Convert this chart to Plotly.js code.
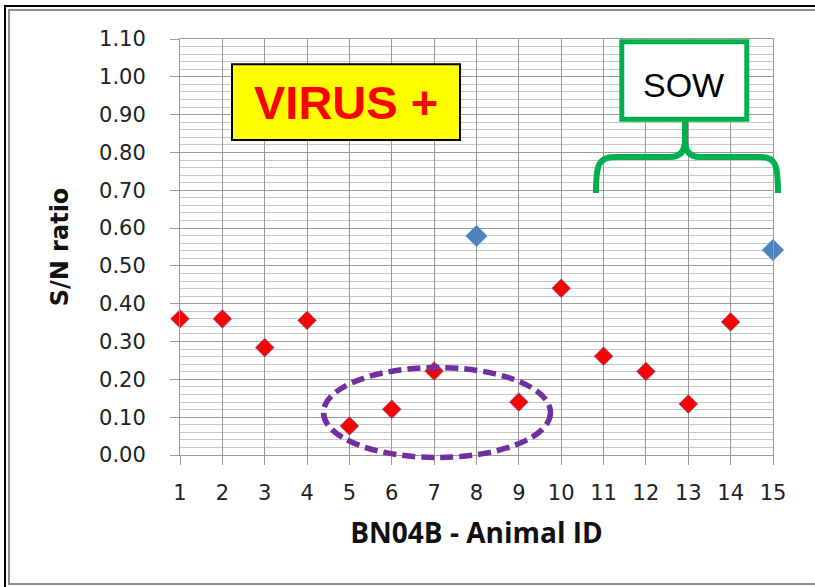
<!DOCTYPE html>
<html>
<head>
<meta charset="utf-8">
<script src="https://cdn.plot.ly/plotly-3.0.1.min.js"></script>
<style>
  html, body { margin: 0; padding: 0; background: #ffffff; }
  #chart { width: 815px; height: 587px; }
</style>
</head>
<body>
<div id="chart"></div>
<script>
// ---- data ----
const positiveIds    = [1, 2, 3, 4, 5, 6, 7, 9, 10, 11, 12, 13, 14];
const positiveRatios = [0.36, 0.36, 0.284, 0.356, 0.077, 0.121, 0.222, 0.14, 0.441, 0.261, 0.221, 0.135, 0.352];
const otherIds       = [8, 15];
const otherRatios    = [0.579, 0.542];
const xTickValues    = [1, 2, 3, 4, 5, 6, 7, 8, 9, 10, 11, 12, 13, 14, 15];
const xTitle = 'BN04B - Animal ID';
const yTitle = 'S/N ratio';
const virusLabel = 'VIRUS +';
const sowLabel = 'SOW';

const traces = [
  {
    type: 'scatter', mode: 'markers', name: 'Virus +',
    x: positiveIds, y: positiveRatios, cliponaxis: false,
    marker: { symbol: 'diamond', size: 14.5, color: '#ff0000', line: { color: '#5b7fc0', width: 0.7 } },
    hoverinfo: 'x+y'
  },
  {
    type: 'scatter', mode: 'markers', name: 'Other',
    x: otherIds, y: otherRatios, cliponaxis: false,
    marker: { symbol: 'diamond', size: 16.5, color: '#4f81bd', line: { color: '#6f95c9', width: 0.7 } },
    hoverinfo: 'x+y'
  }
];

const tickFont = { family: 'DejaVu Sans', size: 21, color: '#222222' };

const layout = {
  width: 815, height: 587,
  paper_bgcolor: '#ffffff', plot_bgcolor: '#ffffff',
  margin: { l: 180, r: 42, t: 39, b: 132, pad: 0 },
  showlegend: false,
  xaxis: {
    range: [1, 15], tickmode: 'array', tickvals: xTickValues,
    ticks: 'outside', ticklen: 9, tickcolor: '#999999', tickwidth: 1,
    showgrid: true, gridcolor: '#999999', gridwidth: 1,
    showline: true, linecolor: '#999999', linewidth: 1, mirror: true,
    zeroline: false, tickfont: tickFont, ticklabelstandoff: 10,
    title: { text: xTitle, standoff: 19, font: { family: 'Open Sans', size: 28, weight: 'bold', color: '#111111' } }
  },
  yaxis: {
    range: [0, 1.1], dtick: 0.1, tick0: 0, tickformat: '.2f',
    ticks: 'outside', ticklen: 9, tickcolor: '#999999', tickwidth: 1,
    showgrid: true, gridcolor: '#999999', gridwidth: 1,
    minor: { dtick: 0.02, showgrid: true, gridcolor: '#c6c6c6', gridwidth: 1, ticks: '' },
    showline: true, linecolor: '#999999', linewidth: 1, mirror: true,
    zeroline: false, tickfont: tickFont, ticklabelstandoff: 20,
    title: { text: yTitle, standoff: 23, font: { family: 'DejaVu Sans', size: 24, weight: 'bold', color: '#111111' } }
  },
  shapes: [
    // outer frame (black, then gray)
    { type: 'rect', xref: 'paper', yref: 'paper', x0: -0.2951, x1: 1.0961, y0: -0.3221, y1: 1.0793,
      line: { color: '#000000', width: 2 }, fillcolor: 'rgba(0,0,0,0)', layer: 'below' },
    { type: 'rect', xref: 'paper', yref: 'paper', x0: -0.2884, x1: 1.0961, y0: -0.3101, y1: 1.0697,
      line: { color: '#8c8c8c', width: 2 }, fillcolor: 'rgba(0,0,0,0)', layer: 'below' },
    // VIRUS + box
    { type: 'rect', xref: 'paper', yref: 'paper', x0: 0.0877, x1: 0.4722, y0: 0.7572, y1: 0.9392,
      line: { color: '#000000', width: 2 }, fillcolor: '#ffff00', layer: 'above' },
    // SOW box
    { type: 'rect', xref: 'paper', yref: 'paper', x0: 0.7450, x1: 0.9558, y0: 0.8072, y1: 0.9933,
      line: { color: '#00b050', width: 5 }, fillcolor: '#ffffff', layer: 'above' },
    // curly brace under SOW
    { type: 'path', xref: 'paper', yref: 'paper',
      path: 'M 0.7015,0.6298 C 0.7015,0.6971 0.7049,0.7163 0.7336,0.7163 L 0.8263,0.7163 Q 0.8516,0.7163 0.8516,0.7572 L 0.8516,0.8029 M 0.8516,0.7572 Q 0.8516,0.7163 0.8769,0.7163 L 0.9781,0.7163 C 1.0051,0.7163 1.0084,0.6971 1.0084,0.6298',
      line: { color: '#00b050', width: 6 }, fillcolor: 'rgba(0,0,0,0)', layer: 'above' },
    // dashed ellipse around low values
    { type: 'circle', xref: 'paper', yref: 'paper', x0: 0.2420, x1: 0.6248, y0: -0.0060, y1: 0.2103,
      line: { color: '#7030a0', width: 5.5, dash: '13px,6px' }, fillcolor: 'rgba(0,0,0,0)', layer: 'above' }
  ],
  annotations: [
    { xref: 'paper', yref: 'paper', x: 0.2791, y: 0.8466, xanchor: 'center', yanchor: 'middle',
      text: virusLabel, showarrow: false,
      font: { family: 'Liberation Sans', size: 47, weight: 'bold', color: '#ff0000' } },
    { xref: 'paper', yref: 'paper', x: 0.8496, y: 0.8887, xanchor: 'center', yanchor: 'middle',
      text: sowLabel, showarrow: false,
      font: { family: 'Liberation Sans', size: 34, color: '#000000' } }
  ]
};

Plotly.newPlot('chart', traces, layout, { staticPlot: true, displayModeBar: false });
</script>
</body>
</html>
